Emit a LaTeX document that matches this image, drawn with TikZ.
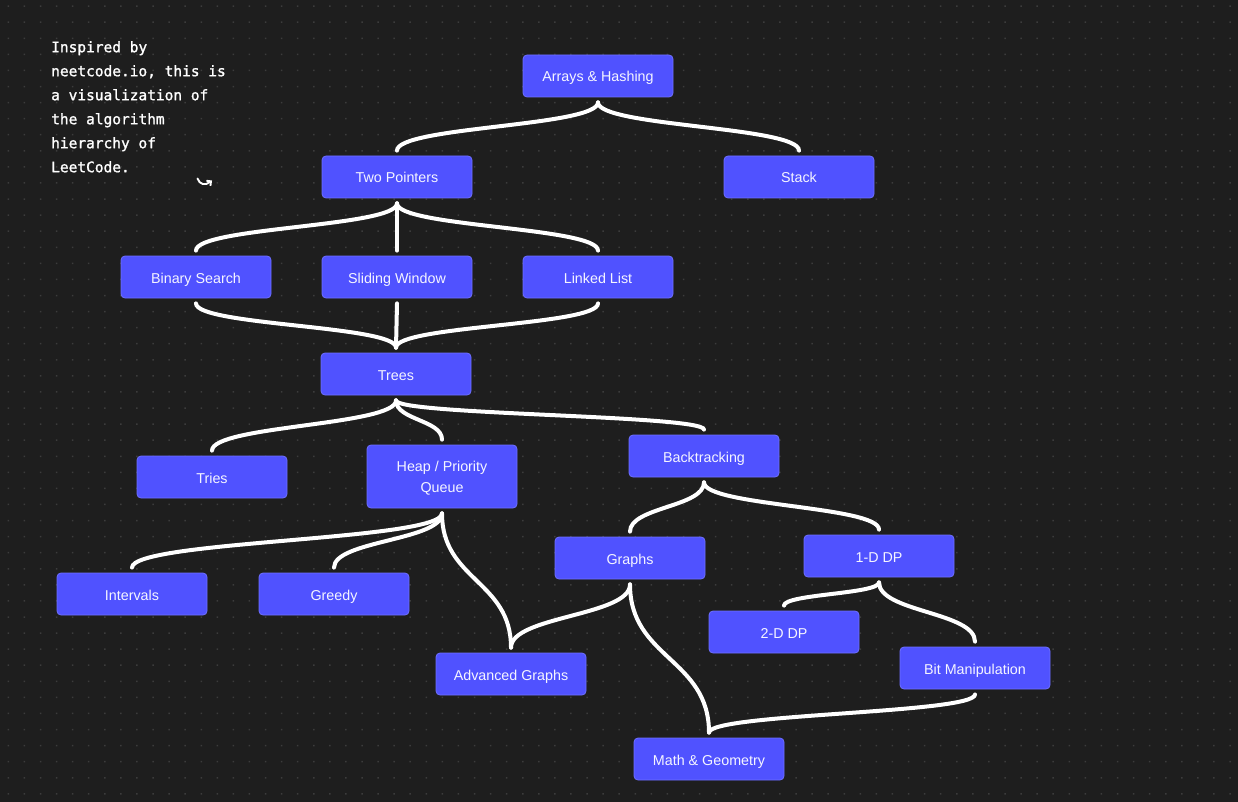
\documentclass[tikz,border=0pt]{standalone}
\usepackage{fontspec}
\setmainfont{Liberation Sans}
\newfontfamily\monofont[FakeBold=1.2]{DejaVu Sans Mono}
\usetikzlibrary{calc,arrows.meta}
\definecolor{bgc}{RGB}{30,30,30}
\definecolor{dotc}{RGB}{60,60,60}
\definecolor{nodefill}{RGB}{80,82,255}
\definecolor{nodeline}{RGB}{110,112,255}
\definecolor{txt}{RGB}{245,245,255}
\tikzset{
  topicbox/.style={draw=nodeline, line width=0.8pt, fill=nodefill, rounded corners=4pt,
    minimum width=150pt, minimum height=42pt, text=txt,
    font=\fontsize{14.3}{21}\selectfont, align=center, inner sep=0pt},
  topic/.style={topicbox, text height=12pt, text depth=0pt},
  topictext/.style={text=txt, font=\fontsize{14.3}{21}\selectfont, align=center, inner sep=0pt},
  link/.style={draw=white, line width=4pt, line cap=round},
}
\newcommand\linkto[2]{\draw[link] let \p1=($(#1.south)+(0,5)$), \p2=($(#2.north)+(0,-5)$), \p3=($(\p1)!0.5!(\p2)$) in (\p1) .. controls (\x1,\y3) and (\x2,\y3) .. (\p2);}
\begin{document}
\begin{tikzpicture}[x=1pt,y=-1pt]
\fill[bgc] (0,0) rectangle (1238,802);
\useasboundingbox (0,0) rectangle (1238,802);
\foreach \i in {0,...,76} {
  \fill[dotc] foreach \j in {0,...,49} {({7.6+16.075*\i},{5.4+16.075*\j}) rectangle ++(1.5,1.5)};
}

\node[anchor=north west, inner sep=0pt, align=left, text=white, font=\monofont\fontsize{14.5}{24}\selectfont] (note) at (51,41)
  {Inspired by\\neetcode.io, this is\\a visualization of\\the algorithm\\hierarchy of\\LeetCode.};
\draw[white, line width=1.9pt, line cap=round, -{Straight Barb[length=3.2pt,width=6.5pt]}] (197.5,178.5) .. controls (199.5,184.5) and (205,186) .. (212,180.5);

\node[topic] (arr) at (598,76) {Arrays \& Hashing};
\node[topic] (tp) at (397,177) {Two Pointers};
\node[topic] (stack) at (799,177) {Stack};
\node[topic] (bs) at (196,277) {Binary Search};
\node[topic] (sw) at (397,277) {Sliding Window};
\node[topic] (ll) at (598,277) {Linked List};
\node[topic] (trees) at (396,374) {Trees};
\node[topic] (tries) at (212,477) {Tries};
\node[topicbox, minimum height=63pt] (heap) at (442,476.5) {};
\node[topictext] (heaplabel) at (442,478) {Heap / Priority\\Queue};
\node[topic] (back) at (704,456) {Backtracking};
\node[topic] (int) at (132,594) {Intervals};
\node[topic] (greedy) at (334,594) {Greedy};
\node[topic] (graphs) at (630,558) {Graphs};
\node[topic] (dpa) at (879,556) {1-D DP};
\node[topic] (dpb) at (784,632) {2-D DP};
\node[topic] (bit) at (975,668) {Bit Manipulation};
\node[topic] (adv) at (511,674) {Advanced Graphs};
\node[topic] (math) at (709,759) {Math \& Geometry};

\linkto{arr}{tp}
\linkto{arr}{stack}
\linkto{tp}{bs}
\linkto{tp}{sw}
\linkto{tp}{ll}
\linkto{bs}{trees}
\linkto{sw}{trees}
\linkto{ll}{trees}
\linkto{trees}{tries}
\linkto{trees}{heap}
\linkto{trees}{back}
\linkto{heap}{int}
\linkto{heap}{greedy}
\linkto{heap}{adv}
\linkto{back}{graphs}
\linkto{back}{dpa}
\linkto{graphs}{adv}
\linkto{graphs}{math}
\linkto{dpa}{dpb}
\linkto{dpa}{bit}
\linkto{bit}{math}
\end{tikzpicture}
\end{document}
